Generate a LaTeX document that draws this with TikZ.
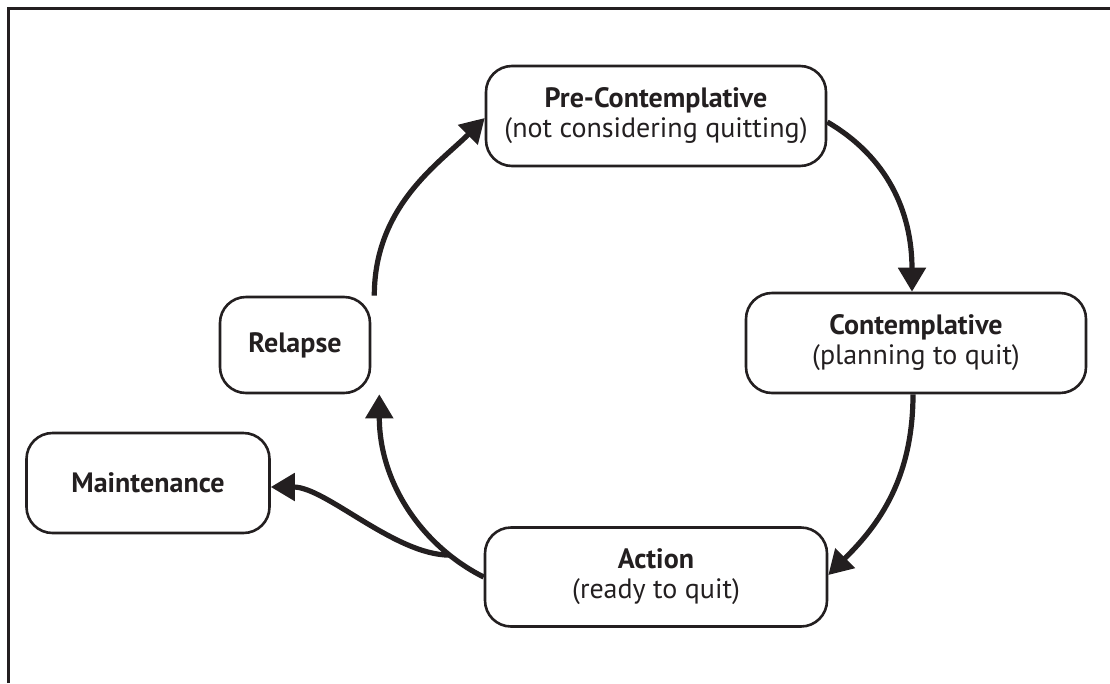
\documentclass[tikz,border=0pt]{standalone}
\usepackage{fontspec}
\setmainfont{PT Sans}
\usetikzlibrary{arrows.meta}
\definecolor{ink}{HTML}{231F20}
\tikzset{
  stage/.style={draw=ink, line width=2.6pt, rounded corners=26pt, align=center, text=ink,
    font=\fontsize{28}{30}\selectfont, inner sep=0pt},
  flow/.style={draw=ink, line width=5.2pt, -{Triangle[length=24pt,width=27pt]}},
}
\begin{document}
\begin{tikzpicture}[x=1pt,y=-1pt]
\useasboundingbox (0,0) rectangle (1110,683);
\draw[ink, line width=3pt] (8,683) -- (8,8) -- (1110,8);
\node[stage, minimum width=340pt, minimum height=100pt] (pre) at (656,116)
  {\textbf{Pre-Contemplative}\\(not considering quitting)};
\node[stage, minimum width=340pt, minimum height=100pt] (con) at (916,343)
  {\textbf{Contemplative}\\(planning to quit)};
\node[stage, minimum width=342pt, minimum height=99pt] (act) at (656,577)
  {\textbf{Action}\\(ready to quit)};
\node[stage, minimum width=150pt, minimum height=96pt] (rel) at (295,345)
  {\textbf{Relapse}};
\node[stage, minimum width=243pt, minimum height=100pt] (mai) at (148,483)
  {\textbf{Maintenance}};
\draw[flow] ([xshift=3pt]rel.north east) .. controls +(0,-90) and +(-45,45) .. ([yshift=-2pt]pre.west);
\draw[flow] ([yshift=-6pt]pre.east) .. controls +(60,35) and +(0,-80) .. ([xshift=-4pt]con.north);
\draw[flow] ([xshift=-3pt]con.south) .. controls +(0,90) and +(45,-45) .. ([yshift=2pt]act.east);
\draw[flow] (act.west) .. controls +(-60,-30) and +(0,90) .. coordinate[pos=0.2] (b) ([xshift=8pt]rel.south east);
\draw[flow] (b) .. controls +(-55,0) and +(55,0) .. ([yshift=-4pt]mai.east);
\end{tikzpicture}
\end{document}
